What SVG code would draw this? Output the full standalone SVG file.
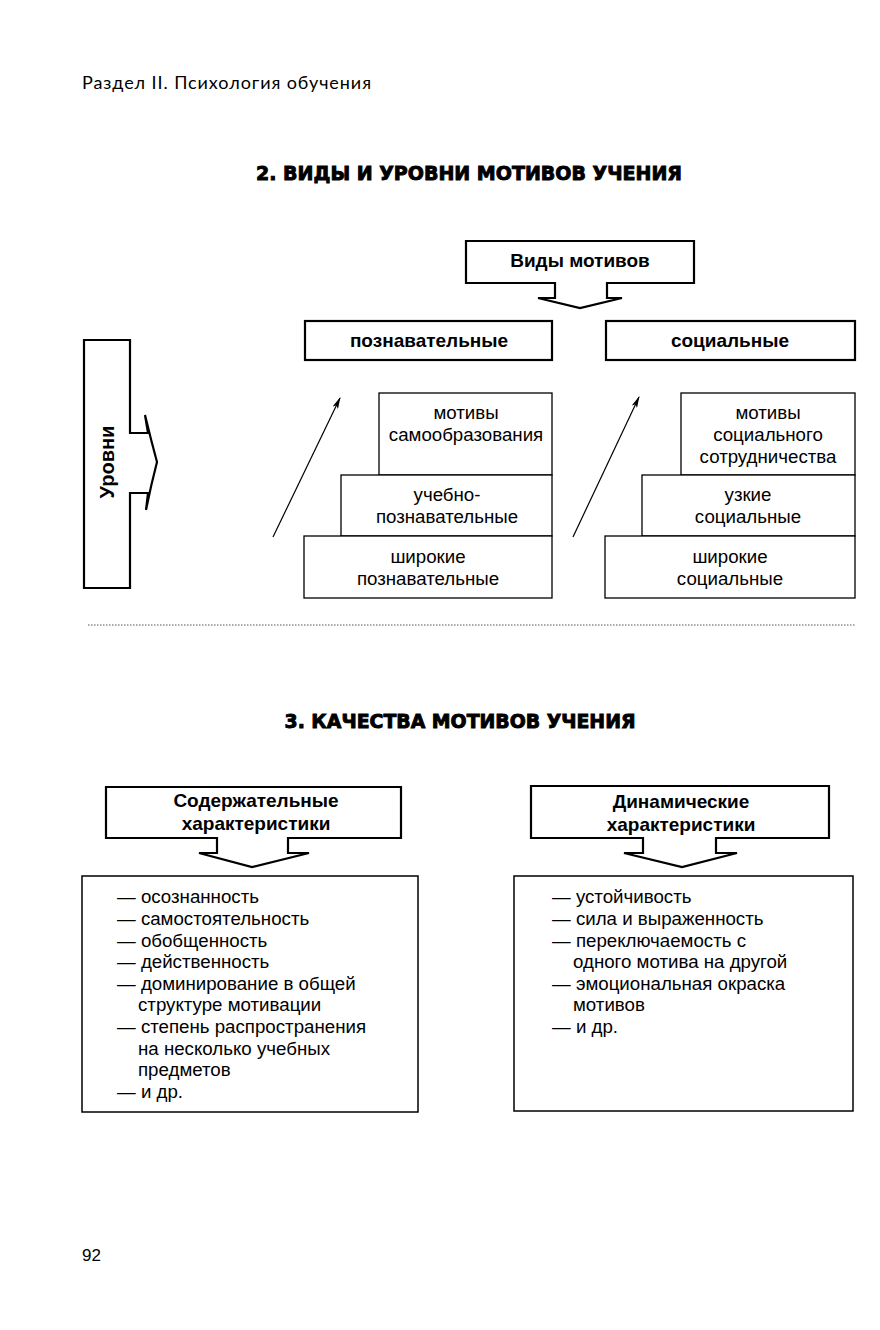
<svg xmlns="http://www.w3.org/2000/svg" width="880" height="1330" viewBox="0 0 880 1330">
<defs>
<marker id="ah" viewBox="0 0 12 6" refX="11" refY="3" markerWidth="12" markerHeight="6" markerUnits="userSpaceOnUse" orient="auto">
<path d="M0,0 L12,3 L0,6 L3,3 Z" fill="#000"/>
</marker>
</defs>
<style>
.b{font-family:"Liberation Sans",Arial,sans-serif;font-size:18.7px;fill:#000}
.bb{font-family:"Liberation Sans",Arial,sans-serif;font-size:19px;font-weight:bold;fill:#000}
.t{font-family:"DejaVu Sans",sans-serif;font-size:19px;font-weight:bold;fill:#000;stroke:#000;stroke-width:0.9}
.hd{font-family:Lato,"Open Sans",sans-serif;font-size:18px;fill:#000}
.thick{fill:#fff;stroke:#000;stroke-width:2.2}
.thin{fill:#fff;stroke:#000;stroke-width:1.3}
.c{text-anchor:middle}
</style>
<rect width="880" height="1330" fill="#fff"/>
<text class="hd" x="82" y="89" textLength="289">Раздел II. Психология обучения</text>
<text class="t c" x="469" y="180" textLength="426" lengthAdjust="spacingAndGlyphs">2. ВИДЫ И УРОВНИ МОТИВОВ УЧЕНИЯ</text>

<g id="vidy">
<path class="thick" d="M466,241 H694 V283 H607 V298 H622 L580,308 L538,298 H555 V283 H466 Z"/>
<text class="bb c" x="580" y="267">Виды мотивов</text>
</g>
<g id="poznav">
<rect class="thick" x="305" y="321" width="247" height="39"/>
<text class="bb c" x="429" y="347">познавательные</text>
</g>
<g id="social">
<rect class="thick" x="606" y="321" width="249" height="39"/>
<text class="bb c" x="730" y="347">социальные</text>
</g>
<g id="urovni">
<path class="thick" d="M84,340 H130 V433 H148 L145,415 Q151,440 157,462 Q151,485 146,510 L148,493 H130 V588 H84 Z"/>
<text class="bb c" transform="translate(114,462) rotate(-90)" style="font-size:20px">Уровни</text>
</g>

<g id="l-top">
<rect class="thin" x="379" y="393" width="173" height="82"/>
<text class="b c" x="466" y="419">мотивы</text>
<text class="b c" x="466" y="441">самообразования</text>
</g>
<g id="l-mid">
<rect class="thin" x="341" y="475" width="211" height="61"/>
<text class="b c" x="447" y="501">учебно-</text>
<text class="b c" x="447" y="523">познавательные</text>
</g>
<g id="l-bot">
<rect class="thin" x="304" y="536" width="248" height="62"/>
<text class="b c" x="428" y="563">широкие</text>
<text class="b c" x="428" y="585">познавательные</text>
</g>
<g id="r-top">
<rect class="thin" x="681" y="393" width="174" height="82"/>
<text class="b c" x="768" y="419">мотивы</text>
<text class="b c" x="768" y="441">социального</text>
<text class="b c" x="768" y="463">сотрудничества</text>
</g>
<g id="r-mid">
<rect class="thin" x="642" y="475" width="213" height="61"/>
<text class="b c" x="748" y="501">узкие</text>
<text class="b c" x="748" y="523">социальные</text>
</g>
<g id="r-bot">
<rect class="thin" x="605" y="536" width="250" height="62"/>
<text class="b c" x="730" y="563">широкие</text>
<text class="b c" x="730" y="585">социальные</text>
</g>

<g id="connectors" stroke="#000" stroke-width="1.2" fill="none">
<line x1="273" y1="537" x2="340" y2="398" marker-end="url(#ah)"/>
<line x1="573" y1="537" x2="639" y2="397" marker-end="url(#ah)"/>
</g>

<line x1="88" y1="625" x2="855" y2="625" stroke="#555" stroke-width="1" stroke-dasharray="1.5,1.5"/>

<text class="t c" x="460" y="728" textLength="351" lengthAdjust="spacingAndGlyphs">3. КАЧЕСТВА МОТИВОВ УЧЕНИЯ</text>

<g id="soderzh">
<path class="thick" d="M106,787 H401 V838 H288 V853 H309 L252,867 L199,853 H217 V838 H106 Z"/>
<text class="bb c" x="256" y="807">Содержательные</text>
<text class="bb c" x="256" y="830">характеристики</text>
</g>
<g id="dinam">
<path class="thick" d="M531,786 H829 V838 H716 V853 H737 L682,867 L624,853 H643 V838 H531 Z"/>
<text class="bb c" x="681" y="808">Динамические</text>
<text class="bb c" x="681" y="831">характеристики</text>
</g>

<g id="list-left">
<rect fill="#fff" stroke="#000" stroke-width="1.5" x="82" y="876" width="336" height="236"/>
<text class="b" x="117" y="903">— осознанность</text>
<text class="b" x="117" y="925">— самостоятельность</text>
<text class="b" x="117" y="947">— обобщенность</text>
<text class="b" x="117" y="968">— действенность</text>
<text class="b" x="117" y="990">— доминирование в общей</text>
<text class="b" x="138" y="1011">структуре мотивации</text>
<text class="b" x="117" y="1033">— степень распространения</text>
<text class="b" x="138" y="1055">на несколько учебных</text>
<text class="b" x="138" y="1076">предметов</text>
<text class="b" x="117" y="1098">— и др.</text>
</g>
<g id="list-right">
<rect fill="#fff" stroke="#000" stroke-width="1.5" x="514" y="876" width="339" height="235"/>
<text class="b" x="552" y="903">— устойчивость</text>
<text class="b" x="552" y="925">— сила и выраженность</text>
<text class="b" x="552" y="947">— переключаемость с</text>
<text class="b" x="573" y="968">одного мотива на другой</text>
<text class="b" x="552" y="990">— эмоциональная окраска</text>
<text class="b" x="573" y="1011">мотивов</text>
<text class="b" x="552" y="1033">— и др.</text>
</g>

<text class="b" x="82" y="1261" style="font-size:17px">92</text>
</svg>
